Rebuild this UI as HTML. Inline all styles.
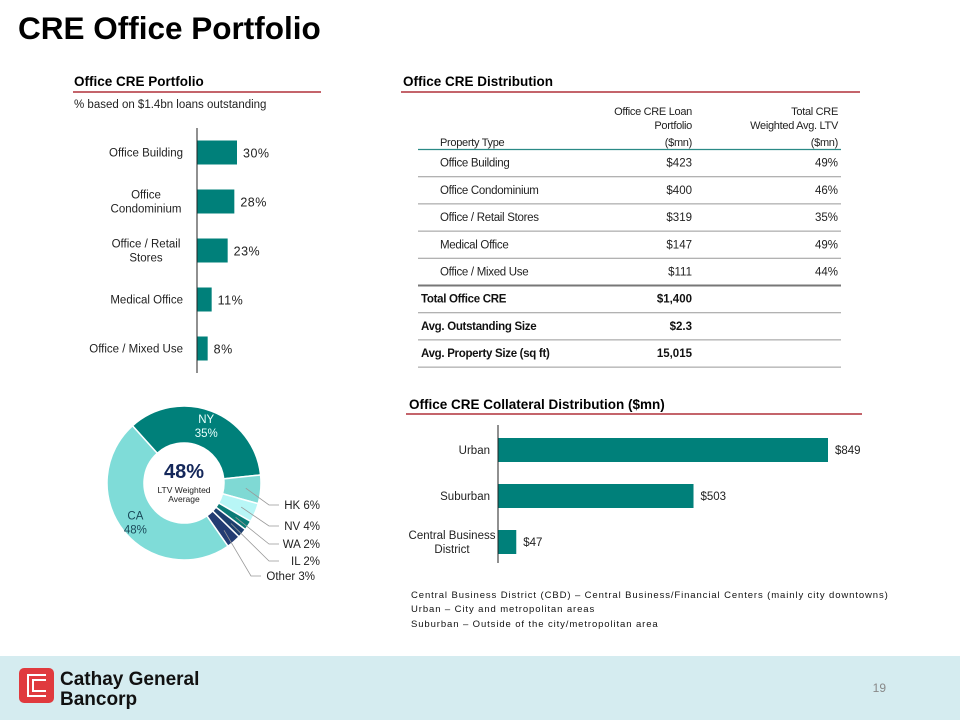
<!DOCTYPE html>
<html><head><meta charset="utf-8">
<style>
body{margin:0;width:960px;height:720px;position:relative;background:#fff;font-family:"Liberation Sans",sans-serif;overflow:hidden}
.abs{position:absolute}
</style></head><body>
<div class="abs" style="left:18px;top:10px;font-size:31.5px;font-weight:bold;color:#000">CRE Office Portfolio</div>

<svg class="abs" style="left:0;top:0" width="960" height="720" font-family="Liberation Sans, sans-serif">
  <g>
    <text x="74" y="86" font-size="13.5" font-weight="bold">Office CRE Portfolio</text>
    <line x1="73" y1="92" x2="321" y2="92" stroke="#b0303a" stroke-width="1.5"/>
    <text x="74" y="108" font-size="11.5" fill="#222">% based on $1.4bn loans outstanding</text>
  </g>
  <g>
    <text x="403" y="86" font-size="13.5" font-weight="bold">Office CRE Distribution</text>
    <line x1="401" y1="92" x2="860" y2="92" stroke="#b0303a" stroke-width="1.5"/>
  </g>
  <g>
    <text x="409" y="409" font-size="13.5" font-weight="bold">Office CRE Collateral Distribution ($mn)</text>
    <line x1="406" y1="414" x2="862" y2="414" stroke="#b0303a" stroke-width="1.5"/>
  </g>
  <g id="bar1"></g>
  <g id="table"></g>
  <g id="donut"></g>
  <g id="bar2"></g>
  <g font-size="9.5" fill="#111" letter-spacing="0.9">
    <text x="411" y="598">Central Business District (CBD) – Central Business/Financial Centers (mainly city downtowns)</text>
    <text x="411" y="612">Urban – City and metropolitan areas</text>
    <text x="411" y="627">Suburban – Outside of the city/metropolitan area</text>
  </g>
  <g>
    <rect x="0" y="656" width="960" height="64" fill="#d5ecf0"/>
    <rect x="19" y="668" width="35" height="35" rx="5" fill="#e03a3e"/>
    <path d="M46 675 H28 V696 H46 M46 680 H33 V691 H46" fill="none" stroke="#fff" stroke-width="2"/>
    <text x="60" y="685" font-size="19" font-weight="bold" fill="#111">Cathay General</text>
    <text x="60" y="705" font-size="19" font-weight="bold" fill="#111">Bancorp</text>
    <text x="886" y="692" font-size="12" fill="#888" text-anchor="end">19</text>
  </g>
</svg>

<script>
const NS="http://www.w3.org/2000/svg";
function mk(parent,tag,attrs,text){const e=document.createElementNS(NS,tag);for(const k in attrs)e.setAttribute(k,attrs[k]);if(text!==undefined)e.textContent=text;parent.appendChild(e);return e;}

const portCats=[["Office Building"],["Office","Condominium"],["Office / Retail","Stores"],["Medical Office"],["Office / Mixed Use"]];
const portVals=[30,28,23,11,8];
const portLabels=["30%","28%","23%","11%","8%"];

const tblTypes=["Office Building","Office Condominium","Office / Retail Stores","Medical Office","Office / Mixed Use"];
const tblLoans=["$423","$400","$319","$147","$111"];
const tblLtv=["49%","46%","35%","49%","44%"];
const tblTotalsLabels=["Total Office CRE","Avg. Outstanding Size","Avg. Property Size (sq ft)"];
const tblTotalsVals=["$1,400","$2.3","15,015"];

const donutCats=["NY","HK","NV","WA","IL","Other","CA"];
const donutVals=[35,6,4,2,2,3,48];

const collCats=[["Urban"],["Suburban"],["Central Business","District"]];
const collVals=[849,503,47];
const collLabels=["$849","$503","$47"];

(function(){
  const g=document.getElementById('bar1');
  const x0=197,scale=40/30,top=128,band=49;
  const xs=v=>x0+v*scale;
  portVals.forEach((v,i)=>{
    const cy=top+band*(i+0.5);
    const r=mk(g,'rect',{x:x0,y:cy-12,width:xs(v)-x0,height:24,fill:'#00807a'});
    
    
    const t=mk(g,'text',{x:xs(v)+6,y:cy+5,'font-size':12.5,fill:'#222','letter-spacing':'0.5'},portLabels[i]);
    
    
    const lines=portCats[i];
    lines.forEach((ln,j)=>{
      const yy=cy+4+(j-(lines.length-1)/2)*14;
      const multi=lines.length>1;
      const c=mk(g,'text',{x:multi?146:183,y:yy,'font-size':11.5,'text-anchor':multi?'middle':'end',fill:'#222'},ln);
      
      
    });
  });
  mk(g,'line',{x1:x0,y1:top,x2:x0,y2:top+band*5,stroke:'#222','stroke-width':1});
})();

(function(){
  const g=document.getElementById('table');
  const L=418,R=841,c1=440,c2=692,c3=838;
  [["Office CRE Loan",c2,115],["Portfolio",c2,129],["($mn)",c2,146],["Total CRE",c3,115],["Weighted Avg. LTV",c3,129],["($mn)",c3,146]].forEach(a=>{
    mk(g,'text',{x:a[1],y:a[2],'font-size':11,'text-anchor':'end',fill:'#222','letter-spacing':'-0.3'},a[0]);
  });
  mk(g,'text',{x:c1,y:146,'font-size':11,fill:'#222','letter-spacing':'-0.3'},"Property Type");
  mk(g,'line',{x1:L,y1:149.5,x2:R,y2:149.5,stroke:'#2a8a86','stroke-width':1.2});
  const rh=27.2;
  tblTypes.forEach((t,i)=>{
    const y=149.5+rh*(i+1);
    const row=mk(g,'g',{});
    
    
    mk(row,'text',{x:c1,y:y-10,'font-size':11.5,fill:'#222','letter-spacing':'-0.3'},t);
    mk(row,'text',{x:c2,y:y-10,'font-size':11.5,fill:'#222','text-anchor':'end'},tblLoans[i]);
    mk(row,'text',{x:c3,y:y-10,'font-size':11.5,fill:'#222','text-anchor':'end'},tblLtv[i]);
    mk(row,'line',{x1:L,y1:y,x2:R,y2:y,stroke:i==4?'#777':'#999','stroke-width':i==4?2:1});
  });
  tblTotalsLabels.forEach((t,i)=>{
    const y=149.5+rh*(6+i);
    const row=mk(g,'g',{});
    
    
    mk(row,'text',{x:L+3,y:y-10,'font-size':11.5,'font-weight':'bold',fill:'#111','letter-spacing':'-0.3'},t);
    mk(row,'text',{x:c2,y:y-10,'font-size':11.5,'font-weight':'bold',fill:'#111','text-anchor':'end'},tblTotalsVals[i]);
    mk(row,'line',{x1:L,y1:y,x2:R,y2:y,stroke:'#999','stroke-width':1});
  });
})();

(function(){
  const g=document.getElementById('donut');
  const cx=184,cy=483,ro=77,ri=40;
  const colors=["#00807a","#7fd9d4","#b8f6f6","#0b7c77","#1d3f6e","#233c73","#7fdcd8"];
  const total=donutVals.reduce((a,b)=>a+b,0);
  let a=-42*Math.PI/180;
  const pt=(ang,r)=>[cx+r*Math.sin(ang),cy-r*Math.cos(ang)];
  const mids=[];
  donutVals.forEach((v,i)=>{
    const da=v/total*2*Math.PI,b=a+da,lg=da>Math.PI?1:0;
    const p1=pt(a,ro),p2=pt(b,ro),p3=pt(b,ri),p4=pt(a,ri);
    const p=mk(g,'path',{d:`M${p1} A${ro},${ro} 0 ${lg} 1 ${p2} L${p3} A${ri},${ri} 0 ${lg} 0 ${p4}Z`,fill:colors[i],stroke:'#fff','stroke-width':1.5});
    
    
    mids.push(a+da/2);a=b;
  });
  const lab=(i,r,col)=>{const p=pt(mids[i],r);
    mk(g,'text',{x:p[0],y:p[1]-2,'font-size':11.5,'text-anchor':'middle',fill:col},donutCats[i]);
    mk(g,'text',{x:p[0],y:p[1]+12,'font-size':11.5,'text-anchor':'middle',fill:col},donutVals[i]+'%');};
  lab(0,62,'#e8fffd');
  lab(6,62,'#1a4a5a');
  const calloutY=[509,530,548,565,580];
  const calloutX=[283,283,283,283,265];
  for(let i=1;i<=5;i++){
    const p=pt(mids[i],ro-15);
    const ex=calloutX[i-1]-4, ey=calloutY[i-1]-4;
    mk(g,'polyline',{points:`${p} ${ex-10},${ey} ${ex},${ey}`,fill:'none',stroke:'#999','stroke-width':0.8});
    const t=mk(g,'text',{x:i==5?315:320,y:calloutY[i-1],'font-size':11.5,'text-anchor':'end',fill:'#222'},donutCats[i]+(i==4?'  ':' ')+donutVals[i]+'%');
    
    
  }
  mk(g,'text',{x:cx,y:478,'font-size':20,'font-weight':'bold','text-anchor':'middle',fill:'#14275a'},'48%');
  mk(g,'text',{x:cx,y:493,'font-size':8.5,'text-anchor':'middle',fill:'#222'},'LTV Weighted');
  mk(g,'text',{x:cx,y:502,'font-size':8.5,'text-anchor':'middle',fill:'#222'},'Average');
})();

(function(){
  const g=document.getElementById('bar2');
  const x0=498,scale=330/849,top=427,band=46;
  const xs=v=>x0+v*scale;
  collVals.forEach((v,i)=>{
    const cy=top+band*(i+0.5);
    const r=mk(g,'rect',{x:x0,y:cy-12,width:xs(v)-x0,height:24,fill:'#00807a'});
    
    
    mk(g,'text',{x:xs(v)+7,y:cy+4,'font-size':11.5,fill:'#222'},collLabels[i]);
    const lines=collCats[i];
    lines.forEach((ln,j)=>{
      const yy=cy+4+(j-(lines.length-1)/2)*14;
      mk(g,'text',{x:lines.length>1?452:490,y:yy,'font-size':11.5,'text-anchor':lines.length>1?'middle':'end',fill:'#222'},ln);
    });
  });
  mk(g,'line',{x1:x0,y1:top-2,x2:x0,y2:top+band*3-2,stroke:'#222','stroke-width':1});
})();
</script>
</body></html>
